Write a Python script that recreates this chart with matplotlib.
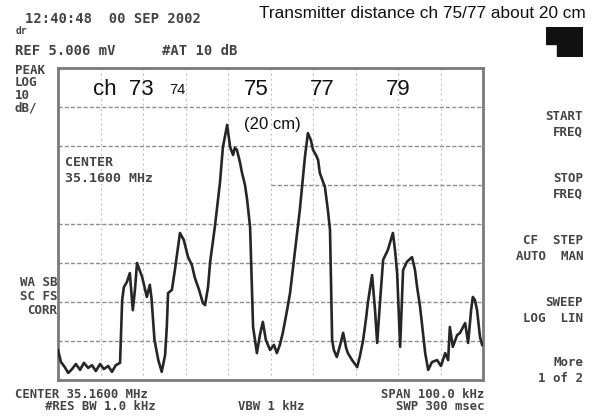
import numpy as np
import matplotlib.pyplot as plt

# frequency offset from center (kHz) and level (dB below reference)
freq = [-50.0, -49.3, -48.4, -47.6, -46.7, -45.8, -44.8, -43.9, -42.9, -42.0,
        -41.1, -40.1, -39.2, -38.2, -37.3, -36.4, -35.4, -34.9, -34.5, -33.8,
        -33.1, -32.4, -31.9, -31.4, -30.2, -29.1, -28.4, -28.0, -27.3, -26.4,
        -25.6, -24.8, -24.4, -24.1, -23.2, -22.5, -21.3, -20.4, -19.4, -18.5,
        -17.8, -16.8, -15.9, -15.4, -14.7, -14.2, -13.5, -13.1, -11.9, -11.2,
        -10.2, -9.5, -8.8, -8.4, -7.9, -7.2, -6.7, -6.0, -5.5, -4.8,
        -4.1, -3.2, -2.5, -1.8, -1.1, -0.1, 0.8, 1.5, 2.2, 2.9,
        3.9, 4.6, 5.8, 6.9, 8.1, 8.8, 9.5, 10.0, 10.7, 11.2,
        11.6, 12.8, 13.5, 14.0, 14.5, 14.9, 15.6, 16.4, 17.1, 17.8,
        18.2, 19.2, 20.4, 21.1, 21.8, 22.5, 22.9, 23.9, 24.6, 25.1,
        25.8, 26.5, 27.6, 28.8, 29.3, 29.8, 30.5, 31.2, 32.1, 33.3,
        34.0, 34.5, 35.2, 36.4, 37.1, 38.0, 39.2, 40.1, 41.1, 41.8,
        42.2, 42.9, 43.9, 44.6, 45.8, 46.5, 47.2, 47.6, 48.1, 48.6,
        49.3, 49.8]
level = [-72.3, -75.4, -76.7, -78.2, -77.2, -75.9, -77.4, -75.6, -76.9, -76.2,
         -77.7, -75.9, -77.2, -76.4, -77.9, -76.2, -75.6, -59.5, -56.2, -54.9,
         -52.6, -62.1, -56.9, -50.0, -53.6, -58.7, -55.6, -59.0, -69.7, -74.9,
         -77.9, -73.6, -66.4, -57.7, -56.9, -51.8, -42.3, -44.1, -48.5, -50.5,
         -53.8, -56.9, -60.3, -60.8, -56.2, -49.7, -44.1, -40.8, -29.5, -20.3,
         -14.6, -20.3, -22.3, -20.5, -21.0, -24.1, -26.9, -30.0, -33.8, -40.8,
         -66.4, -73.1, -68.5, -65.1, -69.7, -72.3, -71.0, -73.1, -71.0, -67.9,
         -62.1, -57.7, -46.7, -36.4, -22.8, -16.7, -18.5, -21.0, -22.3, -23.6,
         -26.9, -30.5, -36.4, -41.5, -69.7, -72.3, -74.1, -71.0, -67.9, -71.8,
         -73.1, -74.9, -76.7, -73.6, -69.7, -64.1, -60.3, -53.1, -62.1, -70.5,
         -59.5, -49.2, -46.7, -42.3, -46.7, -52.6, -71.5, -51.8, -49.7, -48.5,
         -51.8, -56.2, -61.3, -73.1, -77.4, -75.4, -74.9, -76.4, -73.1, -74.9,
         -66.4, -71.5, -68.5, -67.9, -65.4, -70.5, -62.1, -58.7, -59.5, -62.1,
         -69.0, -71.0]

channels = ['ch  73', '74', '75', '77', '79']
channel_x = [-34.6, -21.8, -3.4, 12.1, 30.0]
channel_size = [16, 10.5, 16, 16, 16]

softkeys = ['START\nFREQ', 'STOP\nFREQ', 'CF  STEP\nAUTO  MAN', 'SWEEP\nLOG  LIN', 'More\n1 of 2']
softkey_y = [124, 186, 249, 310, 371]

fig = plt.figure(figsize=(5.96, 4.16), dpi=100)
ax = fig.add_axes([58/596, 1-380/416, 425/596, 312/416])
ax.set_xlim(-50, 50)
ax.set_ylim(-80, 0)

# screen graticule
for f in np.arange(-40, 50, 10):
    ax.axvline(f, color='#b5b5b5', lw=0.8, ls=(0, (1.5, 3)), zorder=1)
for d in [-10, -20, -40, -50, -60, -70]:
    ax.axhline(d, color='#8f8f8f', lw=1.0, ls=(0, (3, 1.5)), zorder=1)
ax.plot([0, 50], [-30, -30], color='#8f8f8f', lw=1.0, ls=(0, (3, 1.5)), zorder=1)

ax.plot(freq, level, color='#262626', lw=1.9, zorder=3)

for s in ax.spines.values():
    s.set_color('#7a7a7a')
    s.set_linewidth(2.0)
ax.set_xticks([])
ax.set_yticks([])

for lab, x, sz in zip(channels, channel_x, channel_size):
    ax.text(x, -5.6, lab, fontsize=sz, family='Liberation Sans', ha='center',
            va='center', color='#111111')
ax.text(0.4, -14.4, '(20 cm)', fontsize=12, family='Liberation Sans',
        ha='center', va='center', color='#111111')

ax.text(-48.3, -26.2, 'CENTER\n35.1600 MHz', fontsize=9.5, family='DejaVu Sans Mono',
        weight='bold', color='#444444', va='center', ha='left', linespacing=1.3)

# annotation above the screen
fig.text(586/596, 1-13/416, 'Transmitter distance ch 75/77 about 20 cm',
         fontsize=12.4, family='Liberation Sans', ha='right', va='center', color='#111111')


def put(x, y, s, ha='left', size=8.8, ls=1.2):
    fig.text(x/596, 1-y/416, s, ha=ha, va='center', family='DejaVu Sans Mono',
             weight='bold', color='#444444', fontsize=size, linespacing=ls)


put(25, 19, '12:40:48  00 SEP 2002', size=10)
put(16, 31, 'dr', size=7)
put(15, 51, 'REF 5.006 mV', size=10)
put(162, 51, '#AT 10 dB', size=10)
put(15, 89, 'PEAK\nLOG\n10\ndB/', size=9, ls=0.95)
put(57, 297, 'WA SB\nSC FS\nCORR', 'right', size=9, ls=1.1)
put(15, 394, 'CENTER 35.1600 MHz')
put(45, 407, '#RES BW 1.0 kHz')
put(238, 407, 'VBW 1 kHz')
put(484, 394, 'SPAN 100.0 kHz', 'right')
put(484, 407, 'SWP 300 msec', 'right')

for lab, y in zip(softkeys, softkey_y):
    put(583, y, lab, 'right', size=9, ls=1.3)

# black status block top right
blk = fig.add_axes([546/596, 1-57/416, 37/596, 30/416])
blk.fill([0, 1, 1, 0.3, 0.3, 0], [1, 1, 0, 0, 0.45, 0.45], color='#111111')
blk.set_xlim(0, 1)
blk.set_ylim(0, 1)
blk.axis('off')

fig.savefig('out.png', dpi=100)
